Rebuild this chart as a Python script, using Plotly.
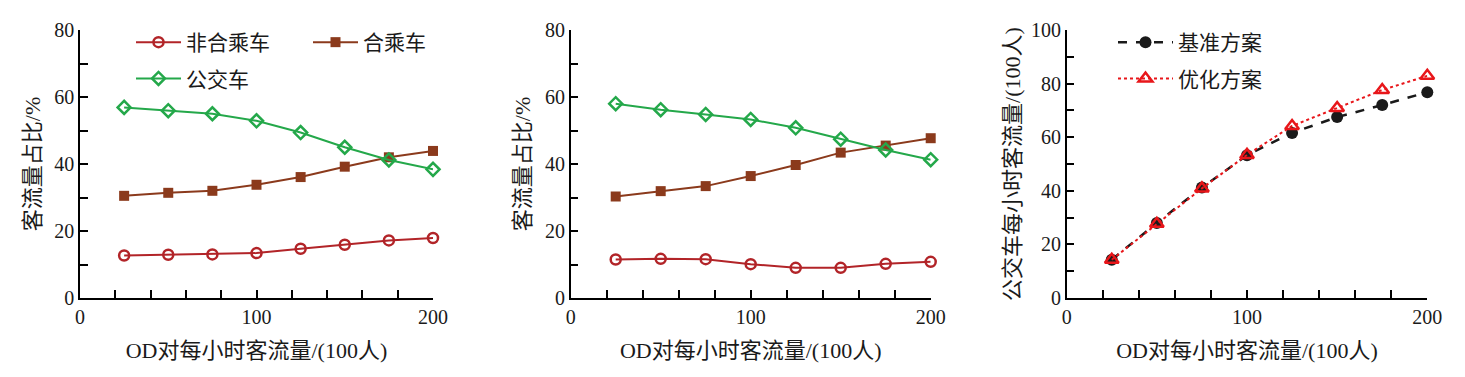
import plotly.graph_objects as go

x_vals = [25, 50, 75, 100, 125, 150, 175, 200]

# Panel 1
p1_nonshare = [12.7, 12.9, 13.0, 13.4, 14.7, 15.9, 17.2, 17.9]
p1_share = [30.5, 31.4, 32.0, 33.8, 36.1, 39.2, 42.0, 43.9]
p1_bus = [56.9, 55.9, 55.0, 52.9, 49.4, 45.0, 41.2, 38.4]

# Panel 2
p2_nonshare = [11.5, 11.7, 11.6, 10.1, 9.0, 9.0, 10.2, 10.8]
p2_share = [30.3, 31.9, 33.4, 36.4, 39.7, 43.4, 45.5, 47.7]
p2_bus = [58.0, 56.2, 54.8, 53.3, 50.8, 47.4, 44.2, 41.3]

# Panel 3
p3_base = [14.3, 28.0, 41.2, 53.3, 61.6, 67.5, 72.0, 76.8]
p3_opt = [14.3, 27.7, 40.9, 53.4, 64.2, 70.9, 77.6, 82.9]

names = ["非合乘车", "合乘车", "公交车"]
p3_names = ["基准方案", "优化方案"]

FONT = "Liberation Serif, Times New Roman, Noto Sans CJK SC, serif"
RED = "#B22428"
BROWN = "#8B3A1C"
GREEN = "#24A84A"
TXT = "#1a1a1a"

fig = go.Figure()

def add_panel(xa, ya, nonshare, share, bus, show):
    fig.add_trace(go.Scatter(x=x_vals, y=nonshare, xaxis=xa, yaxis=ya, name=names[0],
                             mode="lines+markers", line=dict(color=RED, width=2),
                             marker=dict(symbol="circle-open", size=10, line=dict(width=2.5), color=RED),
                             showlegend=show, legend="legend", legendgroup="g1", cliponaxis=False))
    fig.add_trace(go.Scatter(x=x_vals, y=share, xaxis=xa, yaxis=ya, name=names[1],
                             mode="lines+markers", line=dict(color=BROWN, width=2),
                             marker=dict(symbol="square", size=10, color=BROWN),
                             showlegend=show, legend="legend2", legendgroup="g2", cliponaxis=False))
    fig.add_trace(go.Scatter(x=x_vals, y=bus, xaxis=xa, yaxis=ya, name=names[2],
                             mode="lines+markers", line=dict(color=GREEN, width=2),
                             marker=dict(symbol="diamond-open", size=10, line=dict(width=2.5), color=GREEN),
                             showlegend=show, legend="legend", legendgroup="g3", cliponaxis=False))

add_panel("x", "y", p1_nonshare, p1_share, p1_bus, True)
add_panel("x2", "y2", p2_nonshare, p2_share, p2_bus, False)

fig.add_trace(go.Scatter(x=x_vals, y=p3_base, xaxis="x3", yaxis="y3", name=p3_names[0],
                         mode="lines+markers", line=dict(color=TXT, width=2.5, dash="dash"),
                         marker=dict(symbol="circle", size=12, color=TXT),
                         legend="legend3", legendgroup="g4", cliponaxis=False))
fig.add_trace(go.Scatter(x=x_vals, y=p3_opt, xaxis="x3", yaxis="y3", name=p3_names[1],
                         mode="lines+markers", line=dict(color="#E8161A", width=2, dash="dot"),
                         marker=dict(symbol="triangle-up-open", size=12, line=dict(width=2.5), color="#E8161A"),
                         legend="legend3", legendgroup="g5", cliponaxis=False))

W, H = 1465, 377
OFF = 8  # page body margin offset
def px_x(p):
    return (p - OFF) / W
def px_y(p):
    return 1 - (p - OFF) / H

ydom = [px_y(298), px_y(30)]
xdoms = [[px_x(80), px_x(433)], [px_x(570.7), px_x(930.7)], [px_x(1066.7), px_x(1427.3)]]

axis_common = dict(showline=True, linecolor="black", linewidth=1.5, ticks="inside",
                   ticklen=8, tickwidth=1.5, tickcolor="black", showgrid=False, zeroline=False,
                   tickfont=dict(family=FONT, size=20, color=TXT), mirror=False, automargin=False)

xtitle = "OD对每小时客流量/(100人)"
for i, (xa, ya) in enumerate([("xaxis", "yaxis"), ("xaxis2", "yaxis2"), ("xaxis3", "yaxis3")]):
    suffix = "" if i == 0 else str(i + 1)
    fig.layout[xa] = dict(axis_common, domain=xdoms[i], range=[0, 200], tick0=0, dtick=100,
                          minor=dict(dtick=20, ticks="inside", ticklen=8, tickwidth=1.5, tickcolor="black"),
                          anchor="y" + suffix,
                          title=dict(text=xtitle, font=dict(family=FONT, size=22, color=TXT), standoff=16))
    if i < 2:
        fig.layout[ya] = dict(axis_common, domain=ydom, range=[0, 80], tick0=0, dtick=20,
                              minor=dict(dtick=10, ticks="inside", ticklen=8, tickwidth=1.5, tickcolor="black"),
                              anchor="x" + suffix,
                              title=dict(text="客流量占比/%", font=dict(family=FONT, size=22, color=TXT), standoff=8))
    else:
        fig.layout[ya] = dict(axis_common, domain=ydom, range=[0, 100], tick0=0, dtick=20,
                              minor=dict(dtick=10, ticks="inside", ticklen=8, tickwidth=1.5, tickcolor="black"),
                              anchor="x" + suffix,
                              title=dict(text="公交车每小时客流量/(100人)", font=dict(family=FONT, size=22, color=TXT), standoff=4))

leg_common = dict(bgcolor="rgba(0,0,0,0)", font=dict(family=FONT, size=21, color=TXT),
                  xanchor="left", yanchor="top", tracegroupgap=6, traceorder="grouped")
fig.update_layout(
    width=W, height=H,
    margin=dict(l=0, r=0, t=0, b=0, autoexpand=False),
    paper_bgcolor="white", plot_bgcolor="white",
    legend=dict(leg_common, x=px_x(123 + OFF), y=px_y(22), itemwidth=45),
    legend2=dict(leg_common, x=px_x(300 + OFF), y=px_y(22), itemwidth=45),
    legend3=dict(leg_common, x=px_x(1105 + OFF), y=px_y(22), itemwidth=55),
)

fig.write_html("out.html")
